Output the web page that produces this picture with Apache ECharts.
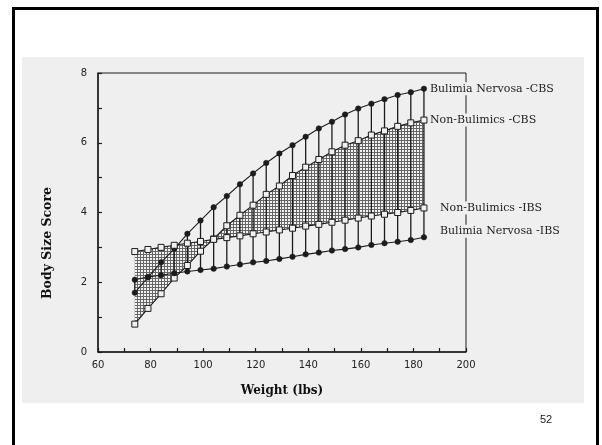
<!DOCTYPE html>
<html>
<head>
<meta charset="utf-8">
<script src="https://cdn.jsdelivr.net/npm/echarts@6/dist/echarts.min.js"></script>
<style>
  html, body { margin: 0; padding: 0; background: #ffffff; overflow: hidden; }
  #wrap { position: relative; width: 602px; height: 445px; overflow: hidden; background: #fff; }
  #frame { position: absolute; left: 12px; top: 7px; width: 587px; height: 470px; border: 3px solid #000; box-sizing: border-box; }
  #scan { position: absolute; left: 22px; top: 57px; width: 562px; height: 346px; background: #efefef; }
  #chart { position: absolute; left: 0; top: 0; width: 602px; height: 445px; }
</style>
</head>
<body>
<div id="wrap">
  <div id="frame"></div>
  <div id="scan"></div>
  <div id="chart"></div>
</div>
<script>
// ---- data ----
const weights = [74, 79, 84, 89, 94, 99, 104, 109, 114, 119, 124, 129, 134, 139, 144, 149, 154, 159, 164, 169, 174, 179, 184];
const bulimiaCBS = [1.70, 2.14, 2.57, 2.96, 3.39, 3.77, 4.15, 4.47, 4.81, 5.12, 5.42, 5.69, 5.93, 6.17, 6.41, 6.60, 6.81, 6.98, 7.12, 7.25, 7.37, 7.45, 7.55];
const bulimiaIBS = [2.07, 2.15, 2.20, 2.26, 2.31, 2.35, 2.39, 2.45, 2.51, 2.57, 2.61, 2.67, 2.73, 2.80, 2.85, 2.91, 2.95, 3.00, 3.07, 3.12, 3.16, 3.21, 3.29];
const nonBulCBS = [0.80, 1.25, 1.67, 2.12, 2.48, 2.89, 3.24, 3.62, 3.92, 4.21, 4.52, 4.76, 5.06, 5.30, 5.52, 5.74, 5.93, 6.06, 6.22, 6.34, 6.47, 6.57, 6.65];
const nonBulIBS = [2.88, 2.94, 3.00, 3.06, 3.12, 3.17, 3.23, 3.28, 3.33, 3.39, 3.44, 3.50, 3.55, 3.61, 3.66, 3.72, 3.78, 3.84, 3.90, 3.95, 4.00, 4.06, 4.13];
const seriesNames = ['Bulimia Nervosa -CBS', 'Non-Bulimics -CBS', 'Non-Bulimics -IBS', 'Bulimia Nervosa -IBS'];
const xTicks = [60, 80, 100, 120, 140, 160, 180, 200];
const yTicks = [0, 2, 4, 6, 8];

// ---- pattern for the shaded band ----
const pat = document.createElement('canvas');
pat.width = 3; pat.height = 3;
const pc = pat.getContext('2d');
pc.fillStyle = '#f2f2f2'; pc.fillRect(0, 0, 3, 3);
pc.fillStyle = '#666666'; pc.fillRect(0, 2, 3, 1); pc.fillRect(2, 0, 1, 3);

const pairs = (ys) => weights.map((w, i) => [w, ys[i]]);
const ink = '#1c1c1c';
const serif = 'DejaVu Serif';

const chart = echarts.init(document.getElementById('chart'), null, { renderer: 'canvas' });

function lineSeries(name, ys, symbol, labelDist, labelOffset) {
  const isSq = symbol === 'rect';
  return {
    name: name,
    type: 'line',
    data: pairs(ys),
    z: 5,
    symbol: symbol,
    symbolSize: isSq ? 6 : 5.5,
    showAllSymbol: true,
    lineStyle: { color: ink, width: 1.1 },
    itemStyle: isSq ? { color: '#f0f0f0', borderColor: ink, borderWidth: 1 } : { color: ink, borderColor: ink, borderWidth: 0.5 },
    endLabel: {
      show: true,
      formatter: name,
      distance: labelDist,
      offset: labelOffset,
      fontFamily: serif,
      fontSize: 11,
      color: '#222',
      backgroundColor: '#efefef',
      padding: [1, 1]
    },
    emphasis: { disabled: true }
  };
}

const option = {
  animation: false,
  backgroundColor: 'transparent',
  grid: { left: 98, top: 73, right: 136, bottom: 93, show: true, borderColor: ink, borderWidth: 1, backgroundColor: 'transparent' },
  xAxis: {
    type: 'value', min: xTicks[0], max: xTicks[xTicks.length - 1], interval: 20,
    axisLine: { show: true, lineStyle: { color: ink, width: 1.5 } },
    axisTick: { show: true, inside: true, length: 4, lineStyle: { color: ink, width: 1.2 } },
    minorTick: { show: true, splitNumber: 2, length: 4, lineStyle: { color: ink, width: 1.2 } },
    splitLine: { show: false },
    axisLabel: { margin: 8, fontFamily: 'DejaVu Sans', fontSize: 10, color: '#222' },
    name: 'Weight (lbs)', nameLocation: 'middle', nameGap: 33,
    nameTextStyle: { fontFamily: serif, fontWeight: 'bold', fontSize: 12, color: '#111' }
  },
  yAxis: {
    type: 'value', min: yTicks[0], max: yTicks[yTicks.length - 1], interval: 2,
    axisLine: { show: true, lineStyle: { color: ink, width: 1.5 } },
    axisTick: { show: true, inside: true, length: 4, lineStyle: { color: ink, width: 1.2 } },
    minorTick: { show: true, splitNumber: 2, length: 4, lineStyle: { color: ink, width: 1.2 } },
    splitLine: { show: false },
    axisLabel: { margin: 11, fontFamily: 'DejaVu Sans', fontSize: 10, color: '#222' }
  },
  graphic: [
    { type: 'text', x: 48, y: 243, rotation: Math.PI / 2,
      style: { text: 'Body Size Score', fontFamily: serif, fontWeight: 'bold', fontSize: 12.5, fill: '#111', align: 'center', verticalAlign: 'middle' } },
    { type: 'text', x: 546, y: 420,
      style: { text: '52', fontFamily: 'Liberation Sans', fontSize: 11, fill: '#222', align: 'center', verticalAlign: 'middle' } }
  ],
  series: [
    {
      type: 'custom', name: 'band', z: 1, silent: true,
      data: [[weights[0], nonBulCBS[0]]],
      renderItem: function (params, api) {
        const pts = [];
        for (let i = 0; i < weights.length; i++) pts.push(api.coord([weights[i], nonBulCBS[i]]));
        for (let i = weights.length - 1; i >= 0; i--) pts.push(api.coord([weights[i], nonBulIBS[i]]));
        return { type: 'polygon', shape: { points: pts }, style: { fill: { image: pat, repeat: 'repeat' }, stroke: null } };
      }
    },
    {
      type: 'custom', name: 'drops', z: 3, silent: true,
      data: weights.map((w, i) => [w, bulimiaCBS[i], bulimiaIBS[i]]),
      encode: { x: 0, y: [1, 2] },
      renderItem: function (params, api) {
        const a = api.coord([api.value(0), api.value(1)]);
        const b = api.coord([api.value(0), api.value(2)]);
        return { type: 'line', shape: { x1: a[0], y1: a[1], x2: b[0], y2: b[1] }, style: { stroke: ink, lineWidth: 1.3 } };
      }
    },
    lineSeries(seriesNames[0], bulimiaCBS, 'circle', 5, [0, 0]),
    lineSeries(seriesNames[1], nonBulCBS, 'rect', 5, [0, 0]),
    lineSeries(seriesNames[2], nonBulIBS, 'rect', 15, [0, 0]),
    lineSeries(seriesNames[3], bulimiaIBS, 'circle', 15, [0, -6])
  ]
};
chart.setOption(option);
</script>
</body>
</html>
